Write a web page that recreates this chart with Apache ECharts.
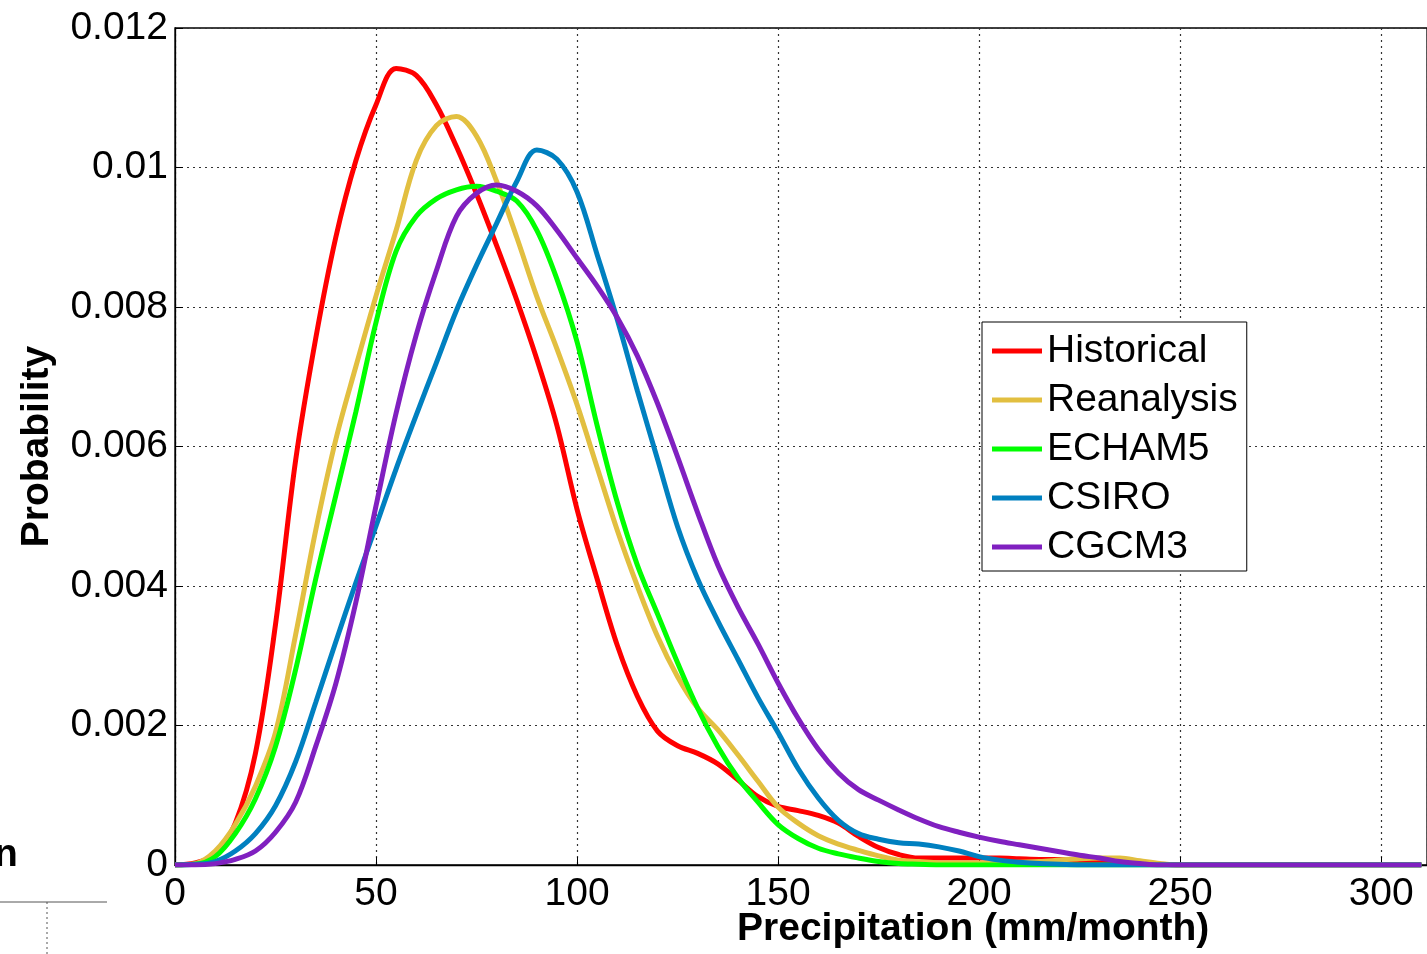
<!DOCTYPE html>
<html>
<head>
<meta charset="utf-8">
<script src="https://cdn.jsdelivr.net/npm/echarts@6/dist/echarts.min.js"></script>
<style>
html,body{margin:0;padding:0;background:#fff;}
#chart{width:1427px;height:954px;}
</style>
</head>
<body>
<div id="chart"></div>
<script>
// Precipitation (mm/month) sample points
const precip = [0,5,10,15,20,25,30,35,40,45,50,55,60,65,70,75,80,85,90,95,100,105,110,115,120,125,130,135,140,145,150,155,160,165,170,175,180,185,190,195,200,205,210,215,220,225,230,235,240,245,250,255,260,265,270,275,280,285,290,295,300,305,310];

const historical = [0,0.00003,0.00015,0.0006,0.0016,0.00345,0.0058,0.00755,0.009,0.0101,0.0109,0.01142,0.01132,0.0109,0.0103,0.00962,0.00888,0.0081,0.00725,0.0063,0.0051,0.0041,0.00315,0.00242,0.00192,0.00171,0.0016,0.00145,0.00122,0.00098,0.00084,0.00078,0.00071,0.0006,0.00041,0.00025,0.00015,0.0001,0.0001,0.0001,0.0001,0.0001,0.00009,0.00008,0.00008,0.00006,0.00005,0.00004,0.00002,0.00001,0,0,0,0,0,0,0,0,0,0,0,0,0];

const reanalysis = [0,0.00002,0.0002,0.00058,0.00113,0.0019,0.0033,0.0048,0.0061,0.00715,0.00816,0.0091,0.0101,0.0106,0.01073,0.01045,0.0098,0.009,0.00815,0.0074,0.0066,0.0057,0.0048,0.004,0.00328,0.0027,0.00225,0.00194,0.00158,0.0012,0.00083,0.0006,0.00042,0.0003,0.00021,0.00013,0.00007,0.00005,0.00003,0.00003,0.00003,0.00003,0.00004,0.00005,0.00007,0.00009,0.0001,0.0001,0.00006,0.00002,0,0,0,0,0,0,0,0,0,0,0,0,0];

const echam5 = [0,0.00001,0.00012,0.00045,0.00095,0.0017,0.0028,0.0041,0.0053,0.0065,0.00778,0.0088,0.0093,0.00955,0.00968,0.00973,0.00966,0.00952,0.0091,0.0084,0.0075,0.0063,0.0052,0.0043,0.0036,0.0029,0.00225,0.0017,0.00125,0.0009,0.00058,0.00038,0.00024,0.00016,0.0001,0.00005,0.00002,0.00001,0,0,0,0,0,0,0,0,0,0,0,0,0,0,0,0,0,0,0,0,0,0,0,0,0];

const csiro = [0,0.00001,0.00005,0.0002,0.00045,0.00085,0.00148,0.00233,0.0032,0.00405,0.00486,0.00568,0.00645,0.0072,0.00795,0.0086,0.0092,0.0098,0.01025,0.01012,0.00965,0.00875,0.00782,0.0068,0.00582,0.00485,0.0041,0.0035,0.00295,0.0024,0.0019,0.00138,0.00096,0.00064,0.00045,0.00037,0.00032,0.0003,0.00026,0.0002,0.00012,0.00007,0.00004,0.00002,0.00001,0,0,0,0,0,0,0,0,0,0,0,0,0,0,0,0,0,0];

const cgcm3 = [0,0,0.00002,0.00008,0.0002,0.00047,0.0009,0.0017,0.0026,0.00377,0.00515,0.00648,0.0076,0.00852,0.0093,0.00963,0.00975,0.00966,0.00945,0.0091,0.0087,0.0083,0.00785,0.0073,0.00662,0.00585,0.00505,0.0043,0.0037,0.00317,0.00261,0.0021,0.00166,0.00132,0.00108,0.00093,0.00079,0.00066,0.00055,0.00047,0.0004,0.00034,0.00029,0.00024,0.00019,0.00014,0.0001,0.00005,0.00002,0,0,0,0,0,0,0,0,0,0,0,0,0,0];

const seriesNames = ['Historical','Reanalysis','ECHAM5','CSIRO','CGCM3'];
const seriesValues = [historical, reanalysis, echam5, csiro, cgcm3];
const seriesColors = ['#ff0000','#e2bf40','#00ff00','#0080c0','#8020c0'];

const xTicks = [0,50,100,150,200,250,300];
const yTicks = ['0','0.002','0.004','0.006','0.008','0.01','0.012'];

const FONT = '"Liberation Sans", Arial, sans-serif';

const chart = echarts.init(document.getElementById('chart'), null, {renderer:'canvas'});

const series = seriesNames.map((name, i) => ({
  name: name,
  type: 'line',
  data: precip.map((x, j) => [x, seriesValues[i][j]]),
  showSymbol: false,
  symbol: 'none',
  smooth: 0.35,
  lineStyle: {color: seriesColors[i], width: 5},
  itemStyle: {color: seriesColors[i]},
  emphasis: {disabled: true},
  animation: false,
  z: 2 + i
}));

chart.setOption({
  animation: false,
  backgroundColor: '#ffffff',
  grid: {left: 175, top: 28, right: -3, bottom: 89, show: true, borderColor: '#000', borderWidth: 1.3, backgroundColor: 'transparent'},
  xAxis: {
    type: 'value', min: 0, max: 311.4, interval: 50,
    axisLine: {show: true, lineStyle: {color: '#000', width: 1.3}},
    axisTick: {show: true, inside: true, length: 8, lineStyle: {color: '#000'}},
    axisLabel: {color: '#000', fontFamily: FONT, fontSize: 39, margin: 10,
      showMaxLabel: false,
      formatter: v => xTicks.indexOf(Math.round(v)) >= 0 && Math.abs(v - Math.round(v)) < 1e-6 ? String(Math.round(v)) : ''},
    splitLine: {show: true, lineStyle: {color: '#333', type: [2, 4], width: 1.2}}
  },
  yAxis: {
    type: 'value', min: 0, max: 0.012, interval: 0.002,
    name: 'Probability', nameLocation: 'middle', nameGap: 118,
    nameTextStyle: {color: '#000', fontFamily: FONT, fontSize: 39, fontWeight: 'bold'},
    axisLine: {show: true, lineStyle: {color: '#000', width: 1.3}},
    axisTick: {show: true, inside: true, length: 8, lineStyle: {color: '#000'}},
    axisLabel: {color: '#000', fontFamily: FONT, fontSize: 39, margin: 7,
      formatter: v => yTicks[Math.round(v / 0.002)]},
    splitLine: {show: true, lineStyle: {color: '#333', type: [2, 4], width: 1.2}}
  },
  legend: {
    orient: 'vertical', left: 982, top: 322,
    data: seriesNames,
    icon: 'rect', itemWidth: 50, itemHeight: 5, itemGap: 5,
    padding: [7, 9, 2, 10],
    backgroundColor: '#fff', borderColor: '#000', borderWidth: 1,
    textStyle: {color: '#000', fontFamily: FONT, fontSize: 39, lineHeight: 44},
    selectedMode: false
  },
  graphic: [
    {type: 'text', left: 737, top: 910, style: {text: 'Precipitation (mm/month)', font: 'bold 39px "Liberation Sans", Arial, sans-serif', fill: '#000'}},
    {type: 'text', left: -6, top: 836, style: {text: 'n', font: 'bold 39px "Liberation Sans", Arial, sans-serif', fill: '#000'}},
    {type: 'line', shape: {x1: 0, y1: 902, x2: 107, y2: 902}, style: {stroke: '#555', lineWidth: 1}},
    {type: 'line', shape: {x1: 47, y1: 902, x2: 47, y2: 954}, style: {stroke: '#555', lineWidth: 1, lineDash: [2, 3]}}
  ],
  series: series
});
</script>
</body>
</html>
